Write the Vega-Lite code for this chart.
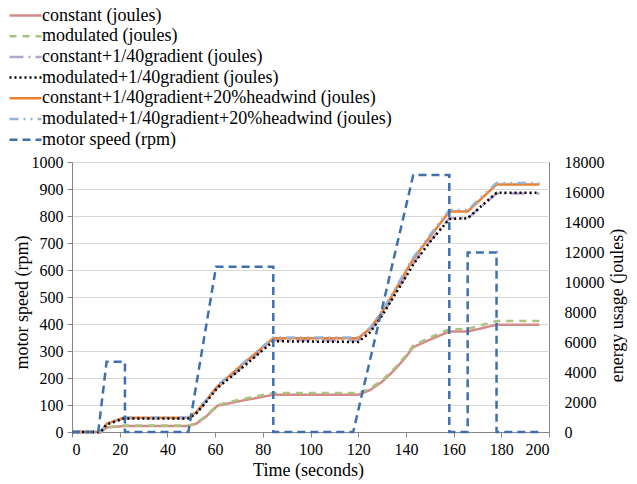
{
  "$schema": "https://vega.github.io/schema/vega-lite/v6.json",
  "width": 477,
  "height": 270,
  "autosize": {"type": "none"},
  "padding": {"left": 72, "top": 162, "right": 88, "bottom": 52},
  "background": "white",
  "config": {
    "font": "Liberation Serif",
    "style": {"guide-label": {"font": "Liberation Serif", "fontSize": 16, "fill": "#000"}, "guide-title": {"font": "Liberation Serif", "fontSize": 18, "fill": "#000"}},
    "view": {"stroke": "#868686", "strokeWidth": 1},
    "axis": {
      "labelFont": "Liberation Serif", "labelFontSize": 16, "labelColor": "#000",
      "titleFont": "Liberation Serif", "titleFontSize": 18, "titleFontWeight": "normal", "titleColor": "#000",
      "domainColor": "#868686", "tickColor": "#868686", "tickSize": 5
    },
    "legend": {
      "labelFont": "Liberation Serif", "labelFontSize": 18, "labelColor": "#000",
      "symbolType": "M-1,0H3", "symbolSize": 256, "symbolStrokeWidth": 2.5, "symbolFillColor": "transparent",
      "rowPadding": 1.7, "labelOffset": 15, "labelLimit": 0
    }
  },
  "datasets": {
    "energy": [
      {"series": "constant (joules)", "t": 0, "v": 0},
      {"series": "constant (joules)", "t": 12, "v": 0},
      {"series": "constant (joules)", "t": 14.5, "v": 300},
      {"series": "constant (joules)", "t": 22, "v": 400},
      {"series": "constant (joules)", "t": 48.8, "v": 400},
      {"series": "constant (joules)", "t": 52, "v": 550},
      {"series": "constant (joules)", "t": 56, "v": 1000},
      {"series": "constant (joules)", "t": 61, "v": 1750},
      {"series": "constant (joules)", "t": 70, "v": 2050},
      {"series": "constant (joules)", "t": 84.4, "v": 2480},
      {"series": "constant (joules)", "t": 120, "v": 2480},
      {"series": "constant (joules)", "t": 125, "v": 2800},
      {"series": "constant (joules)", "t": 130, "v": 3350},
      {"series": "constant (joules)", "t": 135, "v": 4100},
      {"series": "constant (joules)", "t": 140, "v": 5000},
      {"series": "constant (joules)", "t": 143, "v": 5650},
      {"series": "constant (joules)", "t": 150, "v": 6150},
      {"series": "constant (joules)", "t": 158.2, "v": 6700},
      {"series": "constant (joules)", "t": 165.9, "v": 6700},
      {"series": "constant (joules)", "t": 178, "v": 7150},
      {"series": "constant (joules)", "t": 196, "v": 7150},

      {"series": "modulated (joules)", "t": 0, "v": 0},
      {"series": "modulated (joules)", "t": 12, "v": 0},
      {"series": "modulated (joules)", "t": 14.5, "v": 320},
      {"series": "modulated (joules)", "t": 22, "v": 430},
      {"series": "modulated (joules)", "t": 48.8, "v": 430},
      {"series": "modulated (joules)", "t": 52, "v": 580},
      {"series": "modulated (joules)", "t": 56, "v": 1050},
      {"series": "modulated (joules)", "t": 61, "v": 1800},
      {"series": "modulated (joules)", "t": 70, "v": 2150},
      {"series": "modulated (joules)", "t": 84.4, "v": 2600},
      {"series": "modulated (joules)", "t": 120, "v": 2600},
      {"series": "modulated (joules)", "t": 125, "v": 2900},
      {"series": "modulated (joules)", "t": 130, "v": 3450},
      {"series": "modulated (joules)", "t": 135, "v": 4200},
      {"series": "modulated (joules)", "t": 140, "v": 5100},
      {"series": "modulated (joules)", "t": 143, "v": 5750},
      {"series": "modulated (joules)", "t": 150, "v": 6300},
      {"series": "modulated (joules)", "t": 158.2, "v": 6850},
      {"series": "modulated (joules)", "t": 165.9, "v": 6870},
      {"series": "modulated (joules)", "t": 178, "v": 7400},
      {"series": "modulated (joules)", "t": 196, "v": 7400},

      {"series": "constant+1/40gradient (joules)", "t": 0, "v": 0},
      {"series": "constant+1/40gradient (joules)", "t": 12, "v": 0},
      {"series": "constant+1/40gradient (joules)", "t": 14.5, "v": 520},
      {"series": "constant+1/40gradient (joules)", "t": 21.7, "v": 920},
      {"series": "constant+1/40gradient (joules)", "t": 48.8, "v": 920},
      {"series": "constant+1/40gradient (joules)", "t": 52, "v": 1250},
      {"series": "constant+1/40gradient (joules)", "t": 56, "v": 1980},
      {"series": "constant+1/40gradient (joules)", "t": 61, "v": 2980},
      {"series": "constant+1/40gradient (joules)", "t": 70, "v": 4150},
      {"series": "constant+1/40gradient (joules)", "t": 84.4, "v": 6120},
      {"series": "constant+1/40gradient (joules)", "t": 120, "v": 6100},
      {"series": "constant+1/40gradient (joules)", "t": 125, "v": 6700},
      {"series": "constant+1/40gradient (joules)", "t": 130, "v": 7800},
      {"series": "constant+1/40gradient (joules)", "t": 135, "v": 9100},
      {"series": "constant+1/40gradient (joules)", "t": 140, "v": 10400},
      {"series": "constant+1/40gradient (joules)", "t": 143, "v": 11200},
      {"series": "constant+1/40gradient (joules)", "t": 150, "v": 12700},
      {"series": "constant+1/40gradient (joules)", "t": 158.2, "v": 14250},
      {"series": "constant+1/40gradient (joules)", "t": 165.9, "v": 14250},
      {"series": "constant+1/40gradient (joules)", "t": 178, "v": 15900},
      {"series": "constant+1/40gradient (joules)", "t": 196, "v": 15900},

      {"series": "constant+1/40gradient+20%headwind (joules)", "t": 0, "v": 0},
      {"series": "constant+1/40gradient+20%headwind (joules)", "t": 12, "v": 0},
      {"series": "constant+1/40gradient+20%headwind (joules)", "t": 14.5, "v": 550},
      {"series": "constant+1/40gradient+20%headwind (joules)", "t": 21.7, "v": 950},
      {"series": "constant+1/40gradient+20%headwind (joules)", "t": 48.8, "v": 950},
      {"series": "constant+1/40gradient+20%headwind (joules)", "t": 52, "v": 1300},
      {"series": "constant+1/40gradient+20%headwind (joules)", "t": 56, "v": 2050},
      {"series": "constant+1/40gradient+20%headwind (joules)", "t": 61, "v": 3050},
      {"series": "constant+1/40gradient+20%headwind (joules)", "t": 70, "v": 4300},
      {"series": "constant+1/40gradient+20%headwind (joules)", "t": 84.4, "v": 6250},
      {"series": "constant+1/40gradient+20%headwind (joules)", "t": 120, "v": 6250},
      {"series": "constant+1/40gradient+20%headwind (joules)", "t": 125, "v": 6900},
      {"series": "constant+1/40gradient+20%headwind (joules)", "t": 130, "v": 8000},
      {"series": "constant+1/40gradient+20%headwind (joules)", "t": 135, "v": 9300},
      {"series": "constant+1/40gradient+20%headwind (joules)", "t": 140, "v": 10700},
      {"series": "constant+1/40gradient+20%headwind (joules)", "t": 143, "v": 11500},
      {"series": "constant+1/40gradient+20%headwind (joules)", "t": 150, "v": 13000},
      {"series": "constant+1/40gradient+20%headwind (joules)", "t": 158.2, "v": 14700},
      {"series": "constant+1/40gradient+20%headwind (joules)", "t": 165.9, "v": 14700},
      {"series": "constant+1/40gradient+20%headwind (joules)", "t": 178, "v": 16500},
      {"series": "constant+1/40gradient+20%headwind (joules)", "t": 196, "v": 16500},

      {"series": "modulated+1/40gradient+20%headwind (joules)", "t": 0, "v": 0},
      {"series": "modulated+1/40gradient+20%headwind (joules)", "t": 12, "v": 0},
      {"series": "modulated+1/40gradient+20%headwind (joules)", "t": 14.5, "v": 560},
      {"series": "modulated+1/40gradient+20%headwind (joules)", "t": 21.7, "v": 960},
      {"series": "modulated+1/40gradient+20%headwind (joules)", "t": 48.8, "v": 960},
      {"series": "modulated+1/40gradient+20%headwind (joules)", "t": 52, "v": 1320},
      {"series": "modulated+1/40gradient+20%headwind (joules)", "t": 56, "v": 2080},
      {"series": "modulated+1/40gradient+20%headwind (joules)", "t": 61, "v": 3100},
      {"series": "modulated+1/40gradient+20%headwind (joules)", "t": 70, "v": 4350},
      {"series": "modulated+1/40gradient+20%headwind (joules)", "t": 84.4, "v": 6300},
      {"series": "modulated+1/40gradient+20%headwind (joules)", "t": 120, "v": 6300},
      {"series": "modulated+1/40gradient+20%headwind (joules)", "t": 125, "v": 6950},
      {"series": "modulated+1/40gradient+20%headwind (joules)", "t": 130, "v": 8050},
      {"series": "modulated+1/40gradient+20%headwind (joules)", "t": 135, "v": 9400},
      {"series": "modulated+1/40gradient+20%headwind (joules)", "t": 140, "v": 10800},
      {"series": "modulated+1/40gradient+20%headwind (joules)", "t": 143, "v": 11600},
      {"series": "modulated+1/40gradient+20%headwind (joules)", "t": 150, "v": 13100},
      {"series": "modulated+1/40gradient+20%headwind (joules)", "t": 158.2, "v": 14800},
      {"series": "modulated+1/40gradient+20%headwind (joules)", "t": 165.9, "v": 14800},
      {"series": "modulated+1/40gradient+20%headwind (joules)", "t": 178, "v": 16600},
      {"series": "modulated+1/40gradient+20%headwind (joules)", "t": 196, "v": 16600},

      {"series": "modulated+1/40gradient (joules)", "t": 0, "v": 0},
      {"series": "modulated+1/40gradient (joules)", "t": 12, "v": 0},
      {"series": "modulated+1/40gradient (joules)", "t": 14.5, "v": 500},
      {"series": "modulated+1/40gradient (joules)", "t": 21.7, "v": 900},
      {"series": "modulated+1/40gradient (joules)", "t": 48.8, "v": 900},
      {"series": "modulated+1/40gradient (joules)", "t": 52, "v": 1230},
      {"series": "modulated+1/40gradient (joules)", "t": 56, "v": 1950},
      {"series": "modulated+1/40gradient (joules)", "t": 61, "v": 2950},
      {"series": "modulated+1/40gradient (joules)", "t": 70, "v": 4100},
      {"series": "modulated+1/40gradient (joules)", "t": 84.4, "v": 6050},
      {"series": "modulated+1/40gradient (joules)", "t": 120, "v": 6000},
      {"series": "modulated+1/40gradient (joules)", "t": 125, "v": 6650},
      {"series": "modulated+1/40gradient (joules)", "t": 130, "v": 7750},
      {"series": "modulated+1/40gradient (joules)", "t": 135, "v": 9050},
      {"series": "modulated+1/40gradient (joules)", "t": 140, "v": 10350},
      {"series": "modulated+1/40gradient (joules)", "t": 143, "v": 11150},
      {"series": "modulated+1/40gradient (joules)", "t": 150, "v": 12650},
      {"series": "modulated+1/40gradient (joules)", "t": 158.2, "v": 14200},
      {"series": "modulated+1/40gradient (joules)", "t": 165.9, "v": 14250},
      {"series": "modulated+1/40gradient (joules)", "t": 178, "v": 15950},
      {"series": "modulated+1/40gradient (joules)", "t": 196, "v": 15950}
    ],
    "speed": [
      {"series": "motor speed (rpm)", "i": 1, "t": 0, "rpm": 0},
      {"series": "motor speed (rpm)", "i": 2, "t": 11, "rpm": 0},
      {"series": "motor speed (rpm)", "i": 3, "t": 14.5, "rpm": 260},
      {"series": "motor speed (rpm)", "i": 4, "t": 22.2, "rpm": 260},
      {"series": "motor speed (rpm)", "i": 5, "t": 22.2, "rpm": 0},
      {"series": "motor speed (rpm)", "i": 6, "t": 48.8, "rpm": 0},
      {"series": "motor speed (rpm)", "i": 7, "t": 60.4, "rpm": 612},
      {"series": "motor speed (rpm)", "i": 8, "t": 84.4, "rpm": 612},
      {"series": "motor speed (rpm)", "i": 9, "t": 84.4, "rpm": 0},
      {"series": "motor speed (rpm)", "i": 10, "t": 117.9, "rpm": 0},
      {"series": "motor speed (rpm)", "i": 11, "t": 143.1, "rpm": 952},
      {"series": "motor speed (rpm)", "i": 12, "t": 158.2, "rpm": 952},
      {"series": "motor speed (rpm)", "i": 13, "t": 158.2, "rpm": 0},
      {"series": "motor speed (rpm)", "i": 14, "t": 165.9, "rpm": 0},
      {"series": "motor speed (rpm)", "i": 15, "t": 165.9, "rpm": 665},
      {"series": "motor speed (rpm)", "i": 16, "t": 178, "rpm": 665},
      {"series": "motor speed (rpm)", "i": 17, "t": 178, "rpm": 0},
      {"series": "motor speed (rpm)", "i": 18, "t": 196, "rpm": 0}
    ]
  },
  "layer": [
    {
      "data": {"name": "energy"},
      "mark": {"type": "line", "strokeWidth": 2.5},
      "encoding": {
        "x": {"field": "t", "type": "quantitative", "scale": {"domain": [0, 200]},
          "axis": {"title": "Time (seconds)", "values": [0,20,40,60,80,100,120,140,160,180,200], "grid": false, "labelPadding": 4, "labelFont": "Liberation Serif", "labelFontSize": 16, "titleX": 236, "titleY": 38, "titleBaseline": "middle", "titleAlign": "center"}},
        "y": {"field": "v", "type": "quantitative", "scale": {"domain": [0, 18000]},
          "axis": {"orient": "right", "title": "energy usage (joules)", "values": [0,2000,4000,6000,8000,10000,12000,14000,16000,18000], "grid": false, "ticks": false, "domain": false, "labelPadding": 15, "labelFont": "Liberation Serif", "labelFontSize": 16, "format": "d", "titleAngle": 270, "titleX": 68, "titleY": 143, "titleBaseline": "middle", "titleAlign": "center"}},
        "color": {"field": "series", "type": "nominal",
          "scale": {
            "domain": ["constant (joules)", "modulated (joules)", "constant+1/40gradient (joules)", "modulated+1/40gradient (joules)", "constant+1/40gradient+20%headwind (joules)", "modulated+1/40gradient+20%headwind (joules)", "motor speed (rpm)"],
            "range": ["#D48A88", "#A9C47F", "#B4A3CF", "#000000", "#EE7F2D", "#95B3D7", "#3F6FAE"]
          },
          "legend": {"title": null, "orient": "none", "legendX": -64, "legendY": -156}
        },
        "strokeDash": {"field": "series", "type": "nominal",
          "scale": {
            "domain": ["constant (joules)", "modulated (joules)", "constant+1/40gradient (joules)", "modulated+1/40gradient (joules)", "constant+1/40gradient+20%headwind (joules)", "modulated+1/40gradient+20%headwind (joules)", "motor speed (rpm)"],
            "range": [[1, 0], [7, 6], [14, 5, 2, 5], [2, 3], [1, 0], [9, 5, 2, 5, 2, 5], [8, 5]]
          },
          "legend": {"title": null, "orient": "none", "legendX": -64, "legendY": -156}
        }
      }
    },
    {
      "data": {"name": "speed"},
      "mark": {"type": "line", "strokeWidth": 2.5},
      "encoding": {
        "x": {"field": "t", "type": "quantitative", "scale": {"domain": [0, 200]}},
        "y": {"field": "rpm", "type": "quantitative", "scale": {"domain": [0, 1000]},
          "axis": {"orient": "left", "title": "motor speed (rpm)", "values": [0,100,200,300,400,500,600,700,800,900,1000], "format": "d", "grid": true, "gridColor": "#D9D9D9", "labelPadding": 4, "labelFont": "Liberation Serif", "labelFontSize": 16, "titleAngle": 270, "titleX": -50, "titleY": 140, "titleBaseline": "middle", "titleAlign": "center"}},
        "order": {"field": "i", "type": "quantitative"},
        "color": {"field": "series", "type": "nominal"},
        "strokeDash": {"field": "series", "type": "nominal"}
      }
    }
  ],
  "resolve": {"scale": {"y": "independent"}}
}
